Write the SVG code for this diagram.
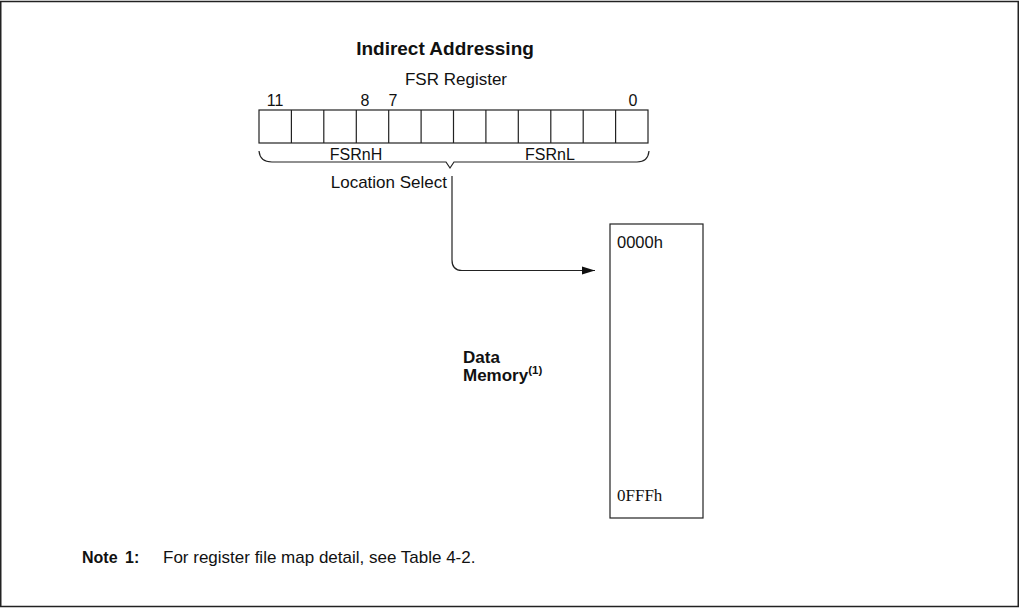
<svg xmlns="http://www.w3.org/2000/svg" width="1019" height="608" viewBox="0 0 1019 608">
<style>
text{font-family:"Liberation Sans",Arial,sans-serif;fill:#111}
.t{font-size:16px}
.m{font-size:17px}
.b{font-weight:bold}
.ln{fill:none;stroke:#222;stroke-width:1.2}
.cell{fill:#fff;stroke:#222;stroke-width:1.2}
</style>
<defs>
<marker id="arr" markerWidth="14" markerHeight="10" refX="13" refY="5" orient="auto" markerUnits="userSpaceOnUse">
<path d="M0,1 L13,5 L0,9 Z" fill="#111"/>
</marker>
</defs>
<rect x="0.75" y="1.5" width="1017.5" height="605" fill="#fff" stroke="#222" stroke-width="1.5"/>
<g id="title">
<text x="445" y="55" class="b" font-size="19" text-anchor="middle">Indirect Addressing</text>
</g>
<g id="fsr-register">
<text x="456" y="85" class="m" text-anchor="middle">FSR Register</text>
<text x="275" y="106" class="t" text-anchor="middle">11</text>
<text x="365" y="106" class="t" text-anchor="middle">8</text>
<text x="393" y="106" class="t" text-anchor="middle">7</text>
<text x="633" y="106" class="t" text-anchor="middle">0</text>
<rect class="cell" x="259" y="110" width="389" height="33"/>
<path class="ln" d="M291.4,110V143M323.8,110V143M356.3,110V143M388.7,110V143M421.1,110V143M453.5,110V143M485.9,110V143M518.3,110V143M550.8,110V143M583.2,110V143M615.6,110V143"/>
<path class="ln" d="M259,151 Q260,162 272,162 L446,162 L450,168 L454,162 L637,162 Q648,162 649,151"/>
<text x="356" y="160" class="t" text-anchor="middle">FSRnH</text>
<text x="550" y="160" class="t" text-anchor="middle">FSRnL</text>
<text x="447" y="188" class="m" text-anchor="end">Location Select</text>
</g>
<g id="connectors">
<path class="ln" d="M452,176 L452,260 Q452,270.5 462,270.5 L595,270.5" marker-end="url(#arr)"/>
</g>
<g id="data-memory">
<rect x="610" y="224" width="93" height="294" fill="#fff" stroke="#222" stroke-width="1.2"/>
<text x="617" y="248" font-size="16.5">0000h</text>
<text x="617" y="501" style="font-family:'Liberation Serif','Times New Roman',serif" font-size="17">0FFFh</text>
<text x="463" y="363" class="b" font-size="17">Data</text>
<text x="463" y="381" class="b" font-size="17">Memory<tspan font-size="11.5" dy="-7">(1)</tspan></text>
</g>
<g id="note">
<text x="82" y="563" class="b" font-size="16">Note</text>
<text x="125" y="563" class="b" font-size="16">1:</text>
<text x="163" y="563" font-size="17">For register file map detail, see Table 4-2.</text>
</g>
</svg>
